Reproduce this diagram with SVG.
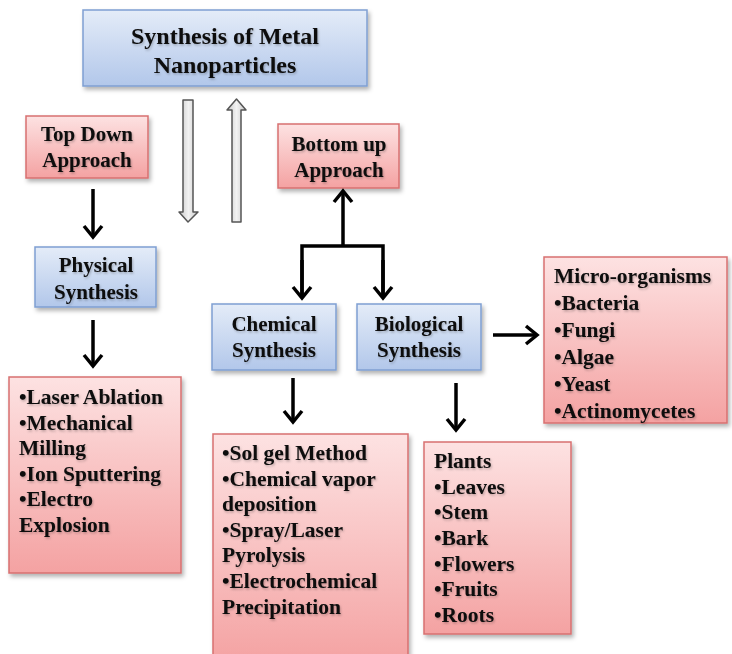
<svg xmlns="http://www.w3.org/2000/svg" width="732" height="654" viewBox="0 0 732 654">
<defs>
<linearGradient id="gBlue" x1="0" y1="0" x2="0" y2="1">
<stop offset="0" stop-color="#e4ecf8"/>
<stop offset="1" stop-color="#b2c7ea"/>
</linearGradient>
<linearGradient id="gRed" x1="0" y1="0" x2="0" y2="1">
<stop offset="0" stop-color="#fde2e2"/>
<stop offset="1" stop-color="#f4a2a2"/>
</linearGradient>
<linearGradient id="gGray" x1="0" y1="0" x2="1" y2="0">
<stop offset="0" stop-color="#c8c8c8"/>
<stop offset="0.5" stop-color="#f2f2f2"/>
<stop offset="1" stop-color="#c8c8c8"/>
</linearGradient>
<filter id="sh" x="-10%" y="-10%" width="125%" height="125%">
<feDropShadow dx="2" dy="3" stdDeviation="2" flood-color="#000" flood-opacity="0.3"/>
</filter>
<filter id="tsh" x="-5%" y="-20%" width="115%" height="150%">
<feDropShadow dx="1" dy="1.5" stdDeviation="0.8" flood-color="#000" flood-opacity="0.25"/>
</filter>
<marker id="ah" markerUnits="userSpaceOnUse" markerWidth="18" markerHeight="22" refX="14" refY="11" orient="auto">
<path d="M3,2 L14,11 L3,20" fill="none" stroke="#000" stroke-width="3.5" stroke-linejoin="miter"/>
</marker>
</defs>
<style>
.blue{fill:url(#gBlue);stroke:#7f9fd2;stroke-width:1.5;filter:url(#sh)}
.red{fill:url(#gRed);stroke:#d77070;stroke-width:1.5;filter:url(#sh)}
text{font-family:'Liberation Serif','DejaVu Serif',serif;font-weight:bold;fill:#0a0a0a;font-size:21px;filter:url(#tsh)}
.l{font-size:21.5px}
.c{text-anchor:middle}
.title{font-size:24px}
.conn{fill:none;stroke:#000;stroke-width:3.5}
.hollow{fill:url(#gGray);stroke:#555;stroke-width:1.5;stroke-linejoin:round}
</style>
<rect width="732" height="654" fill="#fff"/>

<g id="title">
<rect class="blue" x="83" y="10" width="284" height="76"/>
<text class="c title" x="225" y="44">Synthesis of Metal</text>
<text class="c title" x="225" y="73">Nanoparticles</text>
</g>

<g id="topdown">
<rect class="red" x="26" y="116" width="122" height="62"/>
<text class="c" x="87" y="141">Top Down</text>
<text class="c" x="87" y="167">Approach</text>
</g>

<g id="bottomup">
<rect class="red" x="278" y="124" width="121" height="64"/>
<text class="c" x="339" y="151">Bottom up</text>
<text class="c" x="339" y="177">Approach</text>
</g>

<g id="physical">
<rect class="blue" x="35" y="247" width="121" height="60"/>
<text class="c" x="96" y="272">Physical</text>
<text class="c" x="96" y="299">Synthesis</text>
</g>

<g id="chemical">
<rect class="blue" x="212" y="304" width="124" height="66"/>
<text class="c" x="274" y="331">Chemical</text>
<text class="c" x="274" y="357">Synthesis</text>
</g>

<g id="biological">
<rect class="blue" x="357" y="304" width="124" height="66"/>
<text class="c" x="419" y="331">Biological</text>
<text class="c" x="419" y="357">Synthesis</text>
</g>

<g id="micro">
<rect class="red" x="544" y="257" width="183" height="166"/>
<text class="l" x="554" y="283">Micro-organisms</text>
<text class="l" x="554" y="310">•Bacteria</text>
<text class="l" x="554" y="337">•Fungi</text>
<text class="l" x="554" y="364">•Algae</text>
<text class="l" x="554" y="391">•Yeast</text>
<text class="l" x="554" y="418">•Actinomycetes</text>
</g>

<g id="physlist">
<rect class="red" x="9" y="377" width="172" height="196"/>
<text class="l" x="19" y="404">•Laser Ablation</text>
<text class="l" x="19" y="430">•Mechanical</text>
<text class="l" x="19" y="455">Milling</text>
<text class="l" x="19" y="481">•Ion Sputtering</text>
<text class="l" x="19" y="506">•Electro</text>
<text class="l" x="19" y="532">Explosion</text>
</g>

<g id="chemlist">
<rect class="red" x="213" y="434" width="195" height="230"/>
<text class="l" x="222" y="460">•Sol gel Method</text>
<text class="l" x="222" y="486">•Chemical vapor</text>
<text class="l" x="222" y="511">deposition</text>
<text class="l" x="222" y="537">•Spray/Laser</text>
<text class="l" x="222" y="562">Pyrolysis</text>
<text class="l" x="222" y="588">•Electrochemical</text>
<text class="l" x="222" y="614">Precipitation</text>
</g>

<g id="plants">
<rect class="red" x="424" y="442" width="147" height="192"/>
<text class="l" x="434" y="468">Plants</text>
<text class="l" x="434" y="494">•Leaves</text>
<text class="l" x="434" y="519">•Stem</text>
<text class="l" x="434" y="545">•Bark</text>
<text class="l" x="434" y="571">•Flowers</text>
<text class="l" x="434" y="596">•Fruits</text>
<text class="l" x="434" y="622">•Roots</text>
</g>

<g id="connectors">
<polygon class="hollow" points="183,100 193,100 193,212 198,212 188,222 179,212 183,212"/>
<polygon class="hollow" points="236.5,99 246,110 241,110 241,222 232,222 232,110 227,110"/>
<line class="conn" x1="93" y1="189" x2="93" y2="237" marker-end="url(#ah)"/>
<line class="conn" x1="93" y1="320" x2="93" y2="366" marker-end="url(#ah)"/>
<line class="conn" x1="343" y1="247" x2="343" y2="191" marker-end="url(#ah)"/>
<polyline class="conn" points="302,298 302,246 383,246 383,298"/>
<line class="conn" x1="302" y1="260" x2="302" y2="298" marker-end="url(#ah)"/>
<line class="conn" x1="383" y1="260" x2="383" y2="298" marker-end="url(#ah)"/>
<line class="conn" x1="293" y1="378" x2="293" y2="422" marker-end="url(#ah)"/>
<line class="conn" x1="456" y1="383" x2="456" y2="430" marker-end="url(#ah)"/>
<line class="conn" x1="493" y1="335" x2="537" y2="335" marker-end="url(#ah)"/>
</g>
</svg>
